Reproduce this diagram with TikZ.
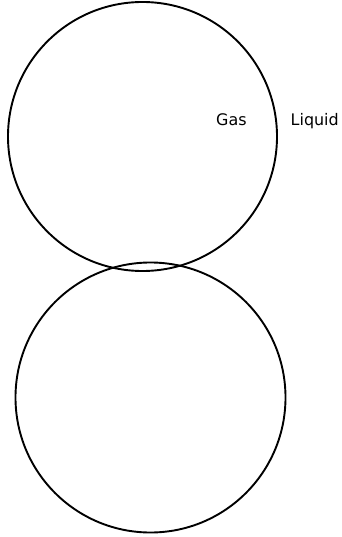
\documentclass[tikz,border=0pt]{standalone}
\usepackage{fontspec}
\setmainfont{DejaVu Sans}
\begin{document}
\begin{tikzpicture}[x=1bp,y=-1bp,
  bubble/.style={draw=black,line width=1.9bp},
  lbl/.style={font=\fontsize{16}{19}\selectfont,inner sep=0pt,anchor=base west}]
\useasboundingbox (0,0) rectangle (341,537);
\node[bubble,circle,minimum size=269bp,inner sep=0pt] (top) at (142.5,136.5) {};
\node[bubble,circle,minimum size=270bp,inner sep=0pt] (bottom) at (150.5,397.5) {};
\node[lbl] (gas) at (216,126) {Gas};
\node[lbl] (liquid) at (290.5,126) {Liquid};
\end{tikzpicture}
\end{document}
